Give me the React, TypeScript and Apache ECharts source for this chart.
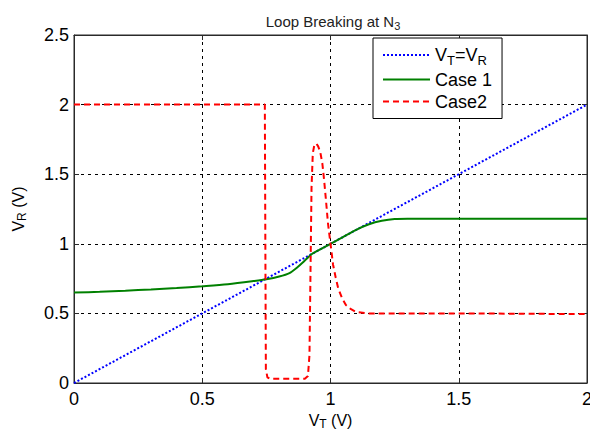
import React, { useEffect, useRef } from "react";
import * as echarts from "echarts";

const xTicks = [0, 0.5, 1, 1.5, 2];
const yTicks = [0, 0.5, 1, 1.5, 2, 2.5];

const refX = [0, 2];
const refY = [0, 2];

const case1X = [0, 0.1, 0.2, 0.3, 0.4, 0.5, 0.6, 0.7, 0.75, 0.8, 0.84, 0.87, 0.9, 0.93, 0.96, 1.0, 1.05, 1.1, 1.15, 1.2, 1.25, 1.3, 2];
const case1Y = [0.65, 0.655, 0.663, 0.672, 0.682, 0.695, 0.71, 0.732, 0.745, 0.765, 0.79, 0.83, 0.88, 0.93, 0.96, 1.0, 1.05, 1.1, 1.14, 1.165, 1.178, 1.18, 1.18];

const case2X = [0, 0.744, 0.746, 0.748, 0.754, 0.764, 0.9, 0.912, 0.918, 0.922, 0.926, 0.931, 0.937, 0.945, 0.952, 0.96, 0.968, 0.975, 0.982, 0.99, 1.0, 1.01, 1.02, 1.03, 1.045, 1.06, 1.08, 1.1, 1.15, 1.5, 2];
const case2Y = [2, 2, 1.0, 0.1, 0.04, 0.03, 0.03, 0.05, 0.2, 0.8, 1.4, 1.65, 1.71, 1.72, 1.7, 1.66, 1.58, 1.46, 1.32, 1.15, 1.0, 0.85, 0.76, 0.68, 0.61, 0.56, 0.53, 0.51, 0.5, 0.5, 0.495];

const zip = (xs: number[], ys: number[]) => xs.map((x, i) => [x, ys[i]]);

const FONT = "Liberation Sans, Arial, sans-serif";
const AXIS_COLOR = "#2a2a2a";

export default function App() {
  const ref = useRef<HTMLDivElement>(null);
  useEffect(() => {
    document.body.style.margin = "0";
    const chart = echarts.init(ref.current!, null, { renderer: "svg" });
    const axisCommon = {
      type: "value" as const,
      min: 0,
      interval: 0.5,
      axisLine: { show: true, onZero: false, lineStyle: { color: AXIS_COLOR, width: 1 } },
      axisTick: { show: true, inside: true, length: 5, lineStyle: { color: AXIS_COLOR } },
    };
    chart.setOption({
      animation: false,
      backgroundColor: "#fff",
      textStyle: { fontFamily: FONT },
      title: {
        text: "{a|Loop Breaking at N}{b|3}",
        left: 328,
        top: 6,
        textAlign: "center",
        textStyle: {
          fontWeight: "normal",
          rich: {
            a: { fontSize: 15, fontFamily: FONT, color: "#222", fontWeight: "normal" },
            b: { fontSize: 11, fontFamily: FONT, color: "#222", fontWeight: "normal", padding: [9, 0, 0, 0] },
          },
        },
      },
      grid: {
        left: 74,
        right: 3,
        top: 35,
        bottom: 47,
        containLabel: false,
        outerBoundsMode: "none",
        show: true,
        borderColor: AXIS_COLOR,
        borderWidth: 1,
        backgroundColor: "transparent",
      },
      legend: {
        orient: "vertical",
        left: 373,
        top: 38,
        padding: [8, 10, 8, 9],
        itemWidth: 47,
        itemHeight: 22,
        itemGap: 4,
        borderColor: "#000",
        borderWidth: 1,
        backgroundColor: "#fff",
        borderRadius: 0,
        itemStyle: { opacity: 0 },
        data: ["VT=VR", "Case 1", "Case2"],
        formatter: (name: string) => (name === "VT=VR" ? "{n|V}{s|T}{n|=V}{s|R}" : "{n|" + name + "}"),
        textStyle: {
          fontSize: 18,
          color: "#000",
          rich: {
            n: { fontSize: 18, fontFamily: FONT, color: "#000" },
            s: { fontSize: 13, fontFamily: FONT, color: "#000", padding: [10, 0, 0, 0] },
          },
        },
      },
      xAxis: [
        {
          ...axisCommon,
          max: 2,
          position: "bottom",
          name: "{n|V}{s|T}{n| (V)}",
          nameLocation: "middle",
          nameGap: 26,
          nameTextStyle: {
            rich: {
              n: { fontSize: 16, fontFamily: FONT, color: "#000" },
              s: { fontSize: 12, fontFamily: FONT, color: "#000", padding: [6, 0, 0, 0] },
            },
          },
          axisLabel: {
            fontSize: 18,
            color: "#000",
            margin: 7,
            formatter: (v: number) => (xTicks.includes(v) ? String(v) : ""),
          },
          splitLine: { show: true, lineStyle: { color: "#000", type: [3, 4], width: 1 } },
        },
        {
          ...axisCommon,
          max: 2,
          position: "top",
          axisLabel: { show: false },
          splitLine: { show: false },
        },
      ],
      yAxis: [
        {
          ...axisCommon,
          max: 2.5,
          position: "left",
          name: "{n|V}{s|R}{n| (V)}",
          nameLocation: "middle",
          nameGap: 46,
          nameTextStyle: {
            rich: {
              n: { fontSize: 16, fontFamily: FONT, color: "#000" },
              s: { fontSize: 12, fontFamily: FONT, color: "#000", padding: [8, 0, 0, 0] },
            },
          },
          axisLabel: {
            fontSize: 18,
            color: "#000",
            margin: 5,
            formatter: (v: number) => (yTicks.includes(v) ? String(v) : ""),
          },
          splitLine: { show: true, lineStyle: { color: "#000", type: [3, 4], width: 1 } },
        },
        {
          ...axisCommon,
          max: 2.5,
          position: "right",
          axisLabel: { show: false },
          splitLine: { show: false },
        },
      ],
      series: [
        {
          name: "VT=VR",
          type: "line",
          data: zip(refX, refY),
          symbol: "none",
          lineStyle: { color: "#0000ff", width: 2, type: [2, 2] },
          itemStyle: { color: "#0000ff" },
          z: 3,
        },
        {
          name: "Case 1",
          type: "line",
          data: zip(case1X, case1Y),
          symbol: "none",
          smooth: 0.3,
          lineStyle: { color: "#008000", width: 2, type: "solid" },
          itemStyle: { color: "#008000" },
          z: 4,
        },
        {
          name: "Case2",
          type: "line",
          data: zip(case2X, case2Y),
          symbol: "none",
          lineStyle: { color: "#ff0000", width: 2, type: [6, 4] },
          itemStyle: { color: "#ff0000" },
          z: 5,
        },
      ],
    });
    return () => chart.dispose();
  }, []);
  return <div ref={ref} style={{ width: 590, height: 430 }} />;
}
